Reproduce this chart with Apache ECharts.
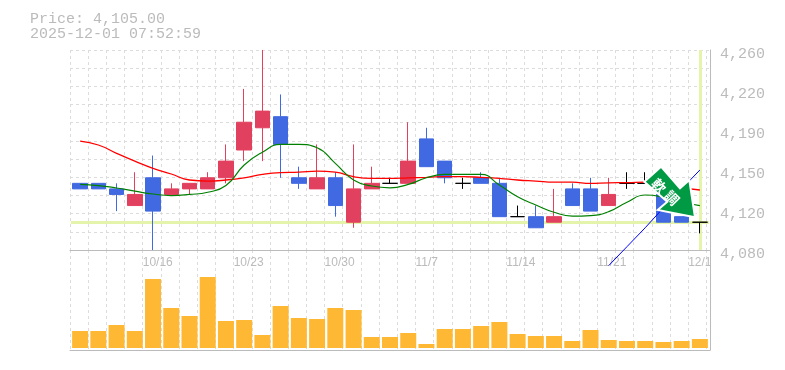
<!DOCTYPE html>
<html><head><meta charset="utf-8">
<style>html,body{margin:0;padding:0;background:#fff}#c{width:785px;height:370px}</style>
<script src="https://cdn.jsdelivr.net/npm/echarts@6/dist/echarts.min.js"></script>
</head><body><div id="c"></div>
<script>
const categories = ['10/9','10/10','10/14','10/15','10/16','10/17','10/20','10/21','10/22','10/23','10/24','10/27','10/28','10/29','10/30','10/31','11/4','11/5','11/6','11/7','11/10','11/11','11/12','11/13','11/14','11/17','11/18','11/19','11/20','11/21','11/25','11/26','11/27','11/28','12/1'];
// [open, close, low, high]
const ohlc = [
[4140,4135,4135,4140],[4140,4135,4135,4140],[4135,4130,4115,4140],[4120,4130,4120,4150],[4145,4115,4080,4165],
[4130,4135,4130,4140],[4135,4140,4130,4140],[4135,4145,4135,4150],[4145,4160,4140,4175],[4170,4195,4160,4225],
[4190,4205,4160,4260],[4200,4175,4145,4220],[4145,4140,4135,4155],[4135,4145,4135,4175],[4145,4120,4110,4150],
[4105,4135,4100,4175],[4135,4140,4135,4155],[4140,4140,4140,4145],[4140,4160,4140,4195],[4180,4155,4155,4190],
[4160,4145,4140,4160],[4140,4140,4135,4145],[4145,4140,4140,4150],[4140,4110,4110,4145],[4110,4110,4110,4120],
[4110,4100,4100,4120],[4105,4110,4105,4135],[4135,4120,4120,4140],[4135,4115,4115,4145],[4120,4130,4120,4145],
[4140,4140,4135,4150],[4140,4140,4140,4150],[4130,4105,4105,4130],[4110,4105,4105,4110],[4105,4105,4095,4105]
];
const maShort = [4139,4138,4135.8,4133,4130.4,4129,4130,4132,4138,4156.5,4168,4175,4175,4172,4158,4143,4137.6,4136,4139,4145,4148,4148,4148,4138.5,4128,4120.5,4114,4110.5,4111,4114.5,4123,4129.5,4127.5,4123,4120];
const maLong = [4178,4174.5,4167,4160,4153.5,4148.4,4143,4142,4143,4145,4148,4149.6,4150,4151,4150,4146,4144.5,4144.5,4145,4145.4,4146,4146,4145.4,4144.5,4143,4142,4141,4141,4140,4140.5,4140.6,4141,4138,4136,4134];
const trend = [null,null,null,null,null,null,null,null,null,null,null,null,null,null,null,null,null,null,null,null,null,null,null,null,null,null,null,null,null,4066,4083,4100,4118,4135,4152];
const volumes = [17,17,23,17,69,40,32,71,27,28,13,42,30,29,40,38,11,11,15,4,19,19,22,26,14,12,12,7,18,8,7,7,6,7,9];
const lastPrice = 4105;
const lastCategory = '12/1';
const priceTicks = [4080,4116,4152,4188,4224,4260];
const priceTickLabels = ['4,080','4,120','4,150','4,190','4,220','4,260'];
const dateTicks = [4,9,14,19,24,29,34];
const infoLines = ['Price: 4,105.00','2025-12-01 07:52:59'];
const arrowText = ['軟','調'];

const GRAY='#bbbbbb', GRID='#dcdcdc', MONO='"Liberation Mono", monospace';
const dashed={show:true,lineStyle:{color:GRID,type:[3,3],width:1}};
const frame={show:true,lineStyle:{color:GRAY,width:1}};
const off={show:false};

const chart=echarts.init(document.getElementById('c'),null,{renderer:'canvas'});
chart.setOption({
 animation:false,
 backgroundColor:'#fff',
 title:{text:infoLines.join('\n'),left:30,top:12,padding:0,textStyle:{fontFamily:MONO,fontSize:15,lineHeight:15,fontWeight:'normal',color:GRAY}},
 grid:[
  {left:70,top:50,width:640,height:200},
  {left:70,top:250,width:640,height:100},
  {left:71,top:50,width:638,height:200},
  {left:71,top:250,width:638,height:100}
 ],
 xAxis:[
  {type:'value',gridIndex:0,min:0,max:35.2,interval:1,axisLine:{onZero:false,...frame},axisTick:off,splitLine:dashed,
   axisLabel:{show:true,customValues:dateTicks,align:'left',margin:7,color:GRAY,fontSize:12,fontFamily:'"Liberation Sans", sans-serif',
     formatter:v=>categories[v]}},
  {type:'value',gridIndex:1,min:0,max:35.2,interval:1,axisLine:{onZero:false,...frame},axisTick:off,axisLabel:off,splitLine:dashed},
  {type:'category',gridIndex:2,data:categories,axisLine:off,axisTick:off,axisLabel:off,splitLine:off},
  {type:'category',gridIndex:3,data:categories,axisLine:off,axisTick:off,axisLabel:off,splitLine:off}
 ],
 yAxis:[
  {type:'value',gridIndex:0,min:0,max:11,interval:1,position:'right',axisLine:{onZero:false,...frame},axisTick:off,axisLabel:off,splitLine:dashed},
  {type:'value',gridIndex:1,min:0,max:1,position:'right',axisLine:{onZero:false,...frame},axisTick:off,axisLabel:off,splitLine:off},
  {type:'value',gridIndex:2,min:4080,max:4260,position:'right',axisLine:off,axisTick:off,splitLine:off,
   axisLabel:{show:true,customValues:priceTicks,margin:11,verticalAlign:'top',lineHeight:8,color:GRAY,fontFamily:MONO,fontSize:15,
     formatter:v=>priceTickLabels[priceTicks.indexOf(v)]}},
  {type:'value',gridIndex:3,min:-2,max:98,axisLine:off,axisTick:off,axisLabel:off,splitLine:off}
 ],
 series:[
  {type:'line',xAxisIndex:2,yAxisIndex:2,data:[],z:1,silent:true,
   markLine:{z:1,silent:true,symbol:'none',label:{show:false},animation:false,
     lineStyle:{color:'#e4f5ab',width:3,type:'solid'},
     data:[{yAxis:lastPrice},{xAxis:lastCategory}]}},
  {type:'candlestick',xAxisIndex:2,yAxisIndex:2,data:ohlc,barWidth:15,z:3,
   itemStyle:{color:'#e2405f',color0:'#4169e1',borderColor:'#e2405f',borderColor0:'#4169e1',borderColorDoji:'#000000',borderWidth:1}},
  {type:'line',xAxisIndex:2,yAxisIndex:2,data:maLong,smooth:true,showSymbol:false,z:4,lineStyle:{color:'#ff0000',width:1.3}},
  {type:'line',xAxisIndex:2,yAxisIndex:2,data:maShort,smooth:true,showSymbol:false,z:4,lineStyle:{color:'#008000',width:1.2}},
  {type:'line',xAxisIndex:2,yAxisIndex:2,data:trend,clip:false,showSymbol:false,z:4,lineStyle:{color:'#0000ff',width:1}},
  {type:'bar',xAxisIndex:3,yAxisIndex:3,data:volumes,barWidth:16,itemStyle:{color:'#ffb833'},z:3}
 ],
 graphic:[
  {type:'polygon',z:100,shape:{points:[[644.3,181.7],[661,166.7],[680,188.3],[689.3,180],[695,217.3],[657.7,210],[667.3,201.7]]},
   style:{fill:'#009944',stroke:'#ffffff',lineWidth:2}},
  {type:'text',z:101,x:659,y:186,rotation:-Math.PI/4,style:{text:arrowText[0],fill:'#fff',font:'bold 14px "Noto Sans CJK JP"',align:'center',verticalAlign:'middle'}},
  {type:'text',z:101,x:672,y:198,rotation:-Math.PI/4,style:{text:arrowText[1],fill:'#fff',font:'bold 14px "Noto Sans CJK JP"',align:'center',verticalAlign:'middle'}}
 ]
});
</script></body></html>
